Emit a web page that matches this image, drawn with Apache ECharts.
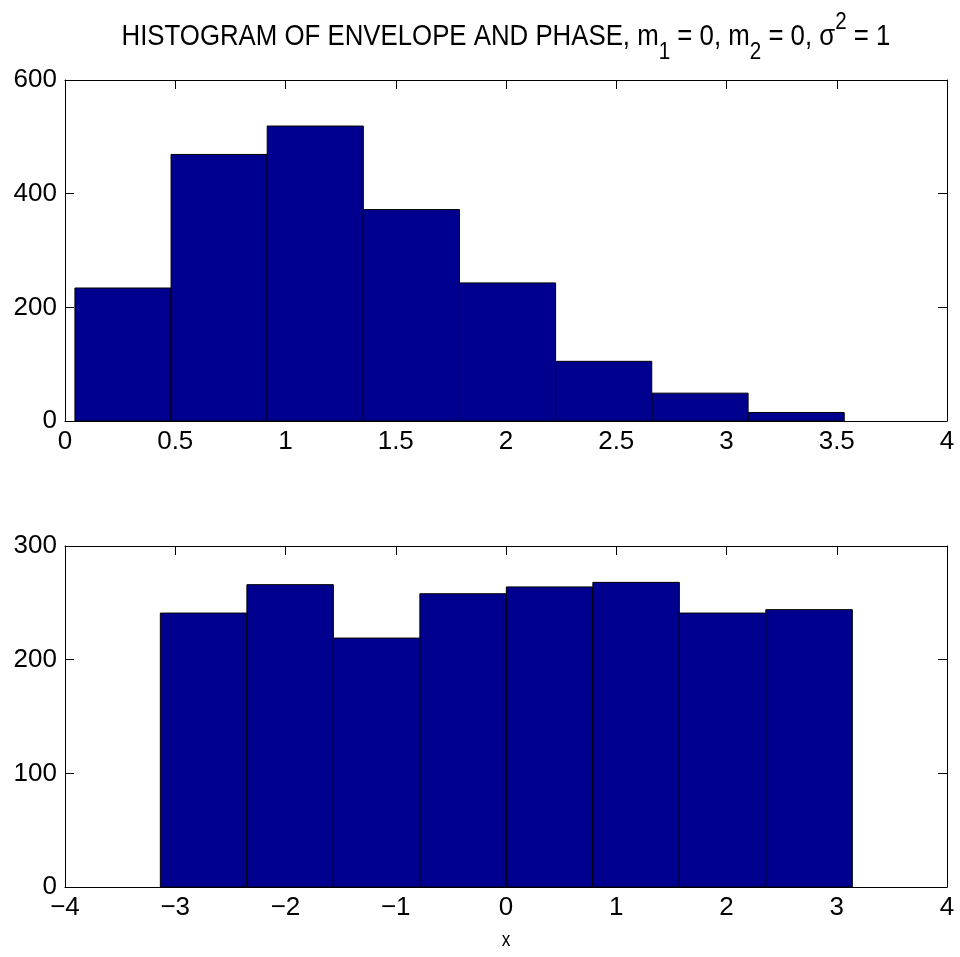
<!DOCTYPE html>
<html>
<head>
<meta charset="utf-8">
<script src="https://cdn.jsdelivr.net/npm/echarts@6/dist/echarts.min.js"></script>
<style>html,body{margin:0;padding:0;background:#fff}#c{width:960px;height:957px}</style>
</head>
<body>
<div id="c"></div>
<script>
// Envelope histogram (top)
const envCenters = [0.263, 0.699, 1.135, 1.571, 2.007, 2.443, 2.880, 3.316];
const envCounts = [234, 469, 519, 372, 243, 105, 49, 15];
const envBinWidth = 0.436;
const envXTicks = [0, 0.5, 1, 1.5, 2, 2.5, 3, 3.5, 4];
const envYTicks = [0, 200, 400, 600];

// Phase histogram (bottom)
const phaseCenters = [-2.743, -1.958, -1.174, -0.389, 0.395, 1.180, 1.964, 2.749];
const phaseCounts = [241, 266, 219, 258, 264, 268, 241, 244];
const phaseBinWidth = 0.7845;
const phaseXTicks = [-4, -3, -2, -1, 0, 1, 2, 3, 4];
const phaseYTicks = [0, 100, 200, 300];

const FONT = "'Liberation Sans', Arial, sans-serif";
const BAR = '#00008F';

function toData(c, v, w) { return c.map((x, i) => [x, v[i], w]); }
function fmt(v) { return String(v).replace('-', '\u2212'); }

function renderBar(params, api) {
  const c = api.value(0), v = api.value(1), w = api.value(2);
  const p0 = api.coord([c - w / 2, v]);
  const p1 = api.coord([c + w / 2, 0]);
  return {
    type: 'rect',
    shape: { x: p0[0], y: p0[1], width: p1[0] - p0[0], height: p1[1] - p0[1] },
    style: { fill: BAR, stroke: '#000', lineWidth: 1 }
  };
}

const line = { show: true, onZero: false, lineStyle: { color: '#000', width: 1 } };
const tick = { show: true, inside: true, length: 9, lineStyle: { color: '#000', width: 1 } };
const lbl = { color: '#000', fontFamily: FONT, fontSize: 26 };

function xAxes(gi, ticks) {
  const mn = ticks[0], mx = ticks[ticks.length - 1], iv = ticks[1] - ticks[0];
  return [
    { type: 'value', gridIndex: gi, position: 'bottom', min: mn, max: mx, interval: iv,
      axisLine: line, axisTick: tick, splitLine: { show: false },
      axisLabel: Object.assign({ margin: 8, formatter: fmt, showMinLabel: true, showMaxLabel: true }, lbl) },
    { type: 'value', gridIndex: gi, position: 'top', min: mn, max: mx, interval: iv,
      axisLine: line, axisTick: tick, splitLine: { show: false }, axisLabel: { show: false } }
  ];
}
function yAxes(gi, ticks) {
  const mn = ticks[0], mx = ticks[ticks.length - 1], iv = ticks[1] - ticks[0];
  return [
    { type: 'value', gridIndex: gi, position: 'left', min: mn, max: mx, interval: iv,
      axisLine: line, axisTick: tick, splitLine: { show: false },
      axisLabel: Object.assign({ margin: 8, formatter: fmt }, lbl) },
    { type: 'value', gridIndex: gi, position: 'right', min: mn, max: mx, interval: iv,
      axisLine: line, axisTick: tick, splitLine: { show: false }, axisLabel: { show: false } }
  ];
}

const chart = echarts.init(document.getElementById('c'), null, { renderer: 'canvas' });
chart.setOption({
  animation: false,
  backgroundColor: '#fff',
  grid: [
    { left: 65, top: 80, width: 882, height: 341 },
    { left: 65, top: 546, width: 882, height: 341 }
  ],
  xAxis: xAxes(0, envXTicks).concat(xAxes(1, phaseXTicks)),
  yAxis: yAxes(0, envYTicks).concat(yAxes(1, phaseYTicks)),
  series: [
    { type: 'custom', xAxisIndex: 0, yAxisIndex: 0, renderItem: renderBar, data: toData(envCenters, envCounts, envBinWidth), z: 1 },
    { type: 'custom', xAxisIndex: 2, yAxisIndex: 2, renderItem: renderBar, data: toData(phaseCenters, phaseCounts, phaseBinWidth), z: 1 }
  ],
  graphic: [
    { type: 'text', x: 506, y: 37, z: 10, scaleX: 0.86, scaleY: 1,
      style: {
        text: '{a|HISTOGRAM OF ENVELOPE AND PHASE, m}{s|1}{a| = 0, m}{s|2}{a| = 0, \u03c3}{p|2}{a| = 1}',
        align: 'center', verticalAlign: 'middle',
        rich: {
          a: { fontFamily: FONT, fontSize: 30, color: '#000', lineHeight: 54 },
          s: { fontFamily: FONT, fontSize: 24, color: '#000', lineHeight: 24, verticalAlign: 'bottom' },
          p: { fontFamily: FONT, fontSize: 24, color: '#000', lineHeight: 42, verticalAlign: 'top' }
        }
      } },
    { type: 'text', x: 506, y: 940, z: 10, scaleX: 0.86,
      style: { text: 'x', fontFamily: FONT, fontSize: 20, fill: '#000', align: 'center', verticalAlign: 'middle' } }
  ]
});
</script>
</body>
</html>
